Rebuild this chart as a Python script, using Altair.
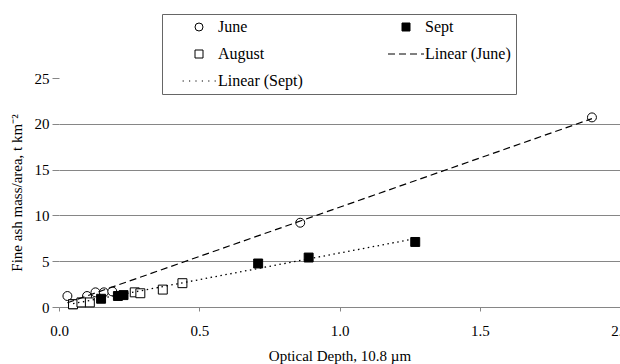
import altair as alt
import pandas as pd

# ---- data ----
june_x = [0.03, 0.10, 0.13, 0.16, 0.19, 0.86, 1.90]
june_y = [1.2, 1.2, 1.6, 1.6, 1.7, 9.2, 20.7]
sept_x = [0.05, 0.15, 0.21, 0.23, 0.71, 0.89, 1.27]
sept_y = [0.3, 0.9, 1.2, 1.3, 4.75, 5.4, 7.1]
aug_x = [0.05, 0.08, 0.11, 0.27, 0.29, 0.37, 0.44]
aug_y = [0.3, 0.5, 0.5, 1.6, 1.5, 1.9, 2.6]

series_order = ["June", "Sept", "August", "Linear (June)", "Linear (Sept)"]
x_ticks = [0, 0.5, 1, 1.5, 2]
y_ticks = [0, 5, 10, 15, 20, 25]

rows = []
for name, xs, ys in [("June", june_x, june_y), ("Sept", sept_x, sept_y), ("August", aug_x, aug_y)]:
    for a, b in zip(xs, ys):
        rows.append({"series": name, "od": a, "mass": b})
df = pd.DataFrame(rows)

FONT = "Liberation Serif"
GRAY = "#868686"

dash_path = ("M-4.5,0H-2.75M-1.75,0H0M1,0H2.75M3.75,0H4.5")
dot_path = ("M-4.1,0H-3.8M-2.5,0H-2.2M-0.9,0H-0.6M0.7,0H1M2.3,0H2.6M3.9,0H4.2")

xscale = alt.Scale(domain=[0, 2], nice=False, zero=False)
yscale = alt.Scale(domain=[0, 25], nice=False)

xenc = alt.X(
    "od:Q", scale=xscale,
    axis=alt.Axis(
        title="Optical Depth, 10.8 µm", values=x_ticks, grid=False,
        domainColor=GRAY, tickColor=GRAY, tickSize=4, labelFlush=False,
        labelFont=FONT, labelFontSize=15, labelColor="black", labelPadding=12,
        titleFont=FONT, titleFontSize=15, titleFontWeight="normal", titleColor="black",
        titlePadding=10, labelOverlap=False,
    ),
)
yenc = alt.Y(
    "mass:Q", scale=yscale,
    axis=alt.Axis(
        title="Fine ash mass/area, t km⁻²", values=y_ticks, domain=False,
        grid=True, gridColor=GRAY,
        gridOpacity=alt.condition("datum.value >= 25", alt.value(0), alt.value(1)),
        tickColor=GRAY, tickSize=7, labelFlush=False, labelPadding=3,
        labelFont=FONT, labelFontSize=15, labelColor="black",
        titleFont=FONT, titleFontSize=15, titleFontWeight="normal", titleColor="black",
        titlePadding=10, labelOverlap=False,
    ),
)

legend = alt.Legend(
    title=None, orient="none", legendX=103, legendY=-64, columns=2,
    direction="horizontal",
    symbolSize=64, symbolStrokeWidth=1, symbolOffset=24,
    labelFont=FONT, labelFontSize=16, labelColor="black", labelOffset=11,
    labelExpr="datum.label + '     '",
    rowPadding=11, columnPadding=71, padding=5,
    strokeColor="#666", fillColor="white", labelLimit=300,
)

scale_args = dict(domain=series_order)

points = alt.Chart(df).mark_point(
    filled=True, strokeWidth=1, size=80, opacity=1
).encode(
    x=xenc, y=yenc,
    shape=alt.Shape("series:N", scale=alt.Scale(
        range=["circle", "square", "square", dash_path, dot_path], **scale_args), legend=legend),
    fill=alt.Fill("series:N", scale=alt.Scale(
        range=["white", "black", "white", "transparent", "transparent"], **scale_args), legend=legend),
    stroke=alt.Stroke("series:N", scale=alt.Scale(
        range=["black", "black", "black", "black", "black"], **scale_args), legend=legend),
)

june_line = alt.Chart(df).transform_filter(
    alt.datum.series == "June"
).transform_regression("od", "mass").mark_line(
    color="black", strokeWidth=1.2, strokeDash=[7, 4]
).encode(x=alt.X("od:Q", scale=xscale), y=alt.Y("mass:Q", scale=yscale))

sept_line = alt.Chart(df).transform_filter(
    alt.datum.series == "Sept"
).transform_regression("od", "mass").mark_line(
    color="black", strokeWidth=1.3, strokeDash=[1.5, 3.5]
).encode(x=alt.X("od:Q", scale=xscale), y=alt.Y("mass:Q", scale=yscale))

chart = alt.layer(points, june_line, sept_line).properties(
    width=561, height=229,
    autosize=alt.AutoSizeParams(type="none"),
    padding={"left": 59, "top": 78, "right": 0, "bottom": 57},
    background="white",
).configure_view(stroke=None)

chart.save("out.html", embed_options={"renderer": "svg", "actions": False})
